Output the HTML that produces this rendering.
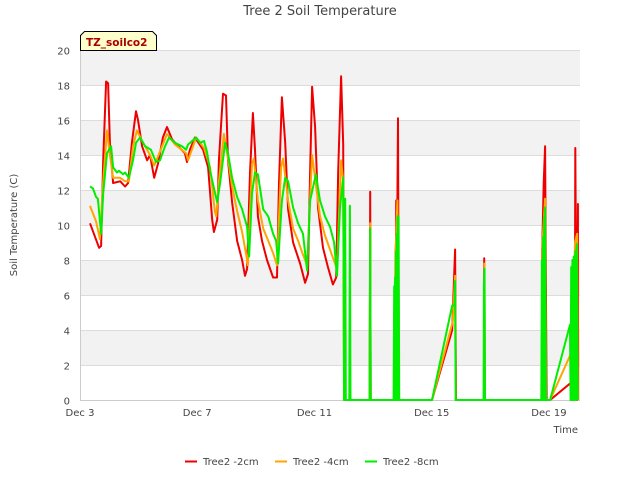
<!DOCTYPE html>
<html><head><meta charset="utf-8"><style>
body{margin:0;background:#fff;}
svg{display:block;font-family:"DejaVu Sans","Liberation Sans",sans-serif;}
</style></head><body>
<svg id="chart" width="640" height="480">
<rect x="0" y="0" width="640" height="480" fill="#fff"/>
<g id="bands"></g>
<g id="grid"></g>
<g id="axes"></g>
<g id="series"></g>
<text x="320" y="15" text-anchor="middle" font-size="13" fill="#444">Tree 2 Soil Temperature</text>
<text x="17" y="225" text-anchor="middle" font-size="10" fill="#444" transform="rotate(-90 17 225)">Soil Temperature (C)</text>
<text x="578" y="433" text-anchor="end" font-size="10" fill="#444">Time</text>
<g>
<path d="M80.5 50.5 L80.5 35.5 L84.5 31.5 L152.5 31.5 L156.5 35.5 L156.5 50.5 Z" fill="#ffffcc" stroke="#000" stroke-width="1"/>
<text x="86" y="46" font-size="10.5" font-weight="bold" fill="#aa0000">TZ_soilco2</text>
</g>
<g id="legend"></g>
</svg>
<script>
const yTicks=[0,2,4,6,8,10,12,14,16,18,20];
const xTickDays=[0,4,8,12,16];
const xTickLabels=["Dec 3","Dec 7","Dec 11","Dec 15","Dec 19"];
const seriesNames=["Tree2 -2cm","Tree2 -4cm","Tree2 -8cm"];
const seriesColors=["#ee0000","#ffa500","#00ee00"];
const redT=[0.34,0.65,0.72,0.79,0.89,0.96,1.02,1.13,1.37,1.54,1.64,1.77,1.91,1.98,2.12,2.29,2.39,2.53,2.66,2.83,2.97,3.14,3.41,3.58,3.65,3.75,3.92,4.20,4.37,4.51,4.57,4.68,4.74,4.88,4.98,5.05,5.19,5.36,5.53,5.63,5.70,5.80,5.90,5.97,6.07,6.21,6.38,6.59,6.72,6.79,6.89,7.00,7.10,7.27,7.51,7.68,7.78,7.85,7.92,8.02,8.12,8.29,8.46,8.63,8.74,8.81,8.91,8.98,9.01,9.88,9.90,9.92,10.77,10.79,10.82,10.85,10.88,12.01,12.70,12.80,12.83,13.78,13.79,13.82,15.76,15.77,15.82,15.87,15.92,16.04,16.83,16.89,16.90,16.95,16.99,17.00];
const redV=[10.1,8.7,8.8,13.7,18.2,18.1,14.7,12.4,12.5,12.2,12.4,14.7,16.5,16,14.5,13.7,14,12.7,13.5,15,15.6,14.9,14.4,14.1,13.6,14.3,15,14.3,13.3,10.3,9.6,10.3,13.7,17.5,17.4,13.7,11.3,9.1,8,7.1,7.5,13,16.4,14.3,10.5,9.1,8,7,7,12.4,17.3,14.7,10.9,9,7.8,6.7,7.2,13,17.9,15.6,11,8.7,7.6,6.6,7,13.1,18.5,14.6,0,0,11.9,0,0,11.4,9,16.1,0,0,4.0,8.6,0,0,8.1,0,0,8.6,12.4,14.5,0,0,1.1,7.0,14.4,0,11.2,0];
const orangeT=[0.34,0.55,0.68,0.79,0.92,1.02,1.13,1.37,1.54,1.67,1.81,1.94,2.12,2.39,2.53,2.73,2.97,3.24,3.62,3.69,3.96,4.23,4.44,4.60,4.65,4.74,4.91,5.05,5.19,5.36,5.53,5.67,5.73,5.87,5.93,6.07,6.25,6.42,6.59,6.72,6.86,6.93,7.10,7.27,7.44,7.61,7.75,7.92,8.05,8.19,8.36,8.53,8.70,8.77,8.91,8.98,9.01,9.88,9.90,9.92,10.72,10.76,10.79,10.83,10.87,12.01,12.72,12.80,12.82,13.78,13.80,13.82,15.76,15.78,15.87,15.90,16.04,16.79,16.83,16.89,16.96,16.99];
const orangeV=[11.1,10.2,9.2,12.5,15.4,14,12.7,12.7,12.5,12.5,14.5,15.4,14.8,14,13.4,14.2,15.2,14.6,14.1,13.7,15,14.4,13.3,10.8,10.5,12.5,15.2,13.8,12.2,10.8,9.6,8.3,7.7,13.5,13.8,11.4,9.8,9.1,8.4,7.7,13.3,13.8,11.4,9.8,9.1,8.3,7.7,14,12.3,10.5,9.4,8.6,7.8,7.5,13.7,12.5,0,0,10.1,0,0,8.6,9.3,11.4,0,0,4.5,7.1,0,0,7.8,0,0,9,11.5,0,0,2.8,4.5,9,9.5,0];
const greenT=[0.34,0.44,0.55,0.61,0.72,0.79,0.92,1.06,1.13,1.26,1.33,1.47,1.54,1.67,1.81,1.91,2.05,2.22,2.42,2.59,2.73,2.90,3.04,3.24,3.48,3.62,3.69,3.96,4.10,4.23,4.33,4.44,4.61,4.68,4.78,4.95,5.05,5.19,5.36,5.53,5.70,5.77,5.87,5.97,6.07,6.25,6.42,6.59,6.69,6.76,6.89,7.00,7.10,7.27,7.44,7.61,7.75,7.85,8.05,8.19,8.36,8.53,8.67,8.77,8.87,8.98,9.01,9.05,9.07,9.19,9.21,9.23,9.88,9.90,9.92,10.70,10.72,10.73,10.75,10.76,10.78,10.79,10.81,10.82,10.84,10.85,10.87,10.89,12.01,12.70,12.78,12.80,12.82,13.77,13.78,13.80,13.82,15.74,15.76,15.78,15.80,15.82,15.84,15.86,15.87,15.90,16.04,16.72,16.74,16.76,16.78,16.80,16.83,16.85,16.88,16.90,16.93,16.95,16.98];
const greenV=[12.2,12.1,11.6,11.5,9.5,11.8,14.1,14.5,13.3,13,13.1,12.9,13,12.7,13.7,14.7,15,14.5,14.3,13.6,13.7,14.5,15,14.7,14.5,14.3,14.6,15,14.7,14.8,14.2,13.1,11.8,11.3,12.4,14.7,14.1,12.7,11.6,10.9,9.9,8.2,11.8,13,12.9,10.9,10.5,9.5,9.1,7.8,11.4,12.7,12.5,11,10.1,9.5,7.4,11.4,12.9,11.4,10.5,9.9,9,7.1,11,12.7,0,11.5,0,0,11.1,0,0,9.8,0,0,6.5,0,7.0,0,8.5,0,9.5,0,10.5,0,10.5,0,0,5.4,5.4,6.8,0,0,6.6,7.5,0,0,8.0,0,9.3,0,10.5,0,11.0,0,0,4.3,0,7.6,0,8.0,0,8.2,0,8.5,0,8.9,0];

const NS="http://www.w3.org/2000/svg";
const L=80,R=580,T=50,B=400,xMin=0,xMax=17.06,yMin=0,yMax=20;
function xs(d){return L+(d-xMin)/(xMax-xMin)*(R-L);}
function ys(v){return B-(v-yMin)/(yMax-yMin)*(B-T);}
function mk(tag,attrs,parent){const e=document.createElementNS(NS,tag);for(const k in attrs)e.setAttribute(k,attrs[k]);parent.appendChild(e);return e;}
const bands=document.getElementById('bands'),grid=document.getElementById('grid'),axes=document.getElementById('axes'),series=document.getElementById('series'),legend=document.getElementById('legend');
mk('rect',{x:L,y:T,width:R-L,height:B-T,fill:'#fff'},bands);
for(let i=0;i<yTicks.length-1;i++){
  if(i%2===1){const r=mk('rect',{x:L,y:ys(yTicks[i+1]),width:R-L,height:ys(yTicks[i])-ys(yTicks[i+1]),fill:'#f2f2f2'},bands);
  
  }
}
yTicks.forEach(v=>{
  const y=Math.round(ys(v))+0.5;
  const g=mk('line',{x1:L,x2:R,y1:y,y2:y,stroke:'#dcdcdc','stroke-width':1},grid);
  
  
  const t=mk('text',{x:L-10,y:y+4,'text-anchor':'end','font-size':10,fill:'#444'},axes);
  t.textContent=v;
  
  
});
mk('line',{x1:L+0.5,x2:L+0.5,y1:T,y2:B,stroke:'#ccc'},axes);
mk('line',{x1:L,x2:R,y1:B+0.5,y2:B+0.5,stroke:'#ccc'},axes);
xTickDays.forEach((d,i)=>{
  const x=xs(d);
  const t=mk('text',{x:x,y:416,'text-anchor':'middle','font-size':10,fill:'#444'},axes);
  t.textContent=xTickLabels[i];
  
  
});
const allT=[redT,orangeT,greenT],allV=[redV,orangeV,greenV];
for(let s=0;s<3;s++){
  const pts=allT[s].map((t,i)=>xs(t).toFixed(1)+','+ys(allV[s][i]).toFixed(1)).join(' ');
  const p=mk('polyline',{points:pts,fill:'none',stroke:seriesColors[s],'stroke-width':2,'stroke-linejoin':'round'},series);
  
  
}
const lx=[185,275,365];
for(let s=0;s<3;s++){
  const g=mk('g',{},legend);
  
  
  mk('line',{x1:lx[s],x2:lx[s]+12,y1:461.5,y2:461.5,stroke:seriesColors[s],'stroke-width':2},g);
  const t=mk('text',{x:lx[s]+18,y:465,'font-size':10,fill:'#444'},g);
  t.textContent=seriesNames[s];
}
</script>
</body></html>
